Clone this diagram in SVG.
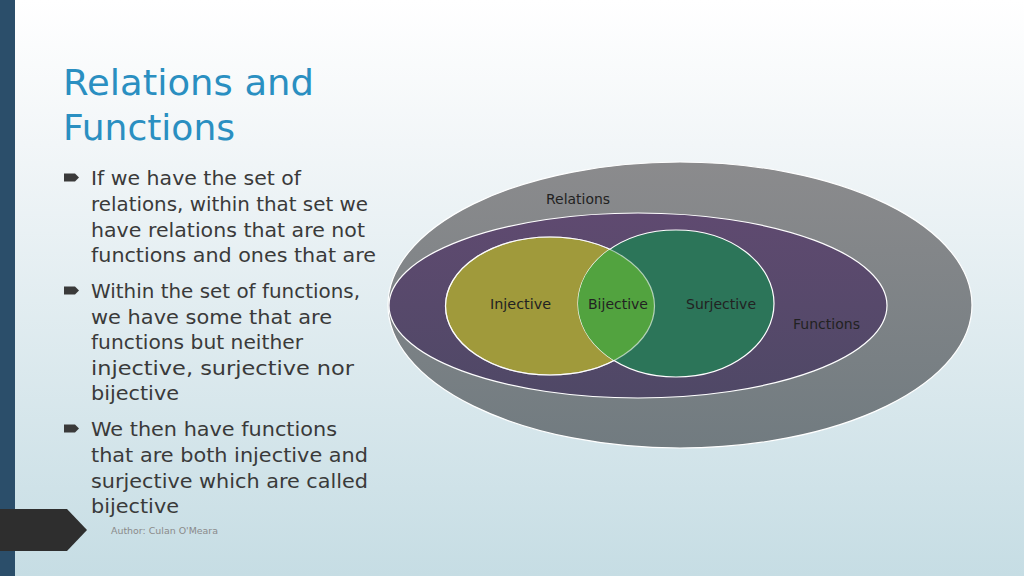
<svg xmlns="http://www.w3.org/2000/svg" width="1024" height="576" viewBox="0 0 1024 576">
<defs>
<linearGradient id="bg" x1="0" y1="0" x2="0" y2="1">
<stop offset="0" stop-color="#ffffff"/>
<stop offset="0.25" stop-color="#f2f6f8"/>
<stop offset="1" stop-color="#c6dde4"/>
</linearGradient>
<linearGradient id="rel" x1="0" y1="0" x2="0" y2="1">
<stop offset="0" stop-color="#8b8b8d"/>
<stop offset="1" stop-color="#717b80"/>
</linearGradient>
<linearGradient id="fun" x1="0" y1="0" x2="0" y2="1">
<stop offset="0" stop-color="#5f4a70"/>
<stop offset="1" stop-color="#4f4866"/>
</linearGradient>
<clipPath id="injClip"><ellipse cx="550" cy="306" rx="104.5" ry="69"/></clipPath>
<style>
.title{font-family:"DejaVu Sans","Liberation Sans",sans-serif;font-size:36px;fill:#2a8fc1}
.body{font-family:"DejaVu Sans","Liberation Sans",sans-serif;font-size:19.5px;fill:#3a3a3a}
.lbl{font-family:"DejaVu Sans","Liberation Sans",sans-serif;font-size:13.5px;fill:#222}
.set{stroke:#ffffff;stroke-width:1.2}
.bul{fill:#3a3a3a}
</style>
</defs>
<rect width="1024" height="576" fill="url(#bg)"/>
<rect x="0" y="0" width="15" height="576" fill="#2b4e6a"/>
<polygon points="0,509 67,509 87,530 67,551 0,551" fill="#2e2e2e"/>
<text class="title" x="63" y="95" textLength="251" lengthAdjust="spacingAndGlyphs">Relations and</text>
<text class="title" x="63" y="140" textLength="172" lengthAdjust="spacingAndGlyphs">Functions</text>
<g id="bullets">
<polygon class="bul" points="64,173.5 75,173.5 79,177.5 75,181.5 64,181.5"/>
<polygon class="bul" points="64,286.5 75,286.5 79,290.5 75,294.5 64,294.5"/>
<polygon class="bul" points="64,424.5 75,424.5 79,428.5 75,432.5 64,432.5"/>
<text class="body" x="91" y="185" textLength="210" lengthAdjust="spacingAndGlyphs">If we have the set of</text>
<text class="body" x="91" y="211" textLength="277" lengthAdjust="spacingAndGlyphs">relations, within that set we</text>
<text class="body" x="91" y="237" textLength="274" lengthAdjust="spacingAndGlyphs">have relations that are not</text>
<text class="body" x="91" y="262" textLength="285" lengthAdjust="spacingAndGlyphs">functions and ones that are</text>
<text class="body" x="91" y="298" textLength="269" lengthAdjust="spacingAndGlyphs">Within the set of functions,</text>
<text class="body" x="91" y="324" textLength="241" lengthAdjust="spacingAndGlyphs">we have some that are</text>
<text class="body" x="91" y="349" textLength="212" lengthAdjust="spacingAndGlyphs">functions but neither</text>
<text class="body" x="91" y="375" textLength="263" lengthAdjust="spacingAndGlyphs">injective, surjective nor</text>
<text class="body" x="91" y="400" textLength="88" lengthAdjust="spacingAndGlyphs">bijective</text>
<text class="body" x="91" y="436" textLength="246" lengthAdjust="spacingAndGlyphs">We then have functions</text>
<text class="body" x="91" y="462" textLength="277" lengthAdjust="spacingAndGlyphs">that are both injective and</text>
<text class="body" x="91" y="488" textLength="277" lengthAdjust="spacingAndGlyphs">surjective which are called</text>
<text class="body" x="91" y="513" textLength="88" lengthAdjust="spacingAndGlyphs">bijective</text>
</g>
<text x="111" y="534" textLength="107" lengthAdjust="spacingAndGlyphs" style="font-family:'DejaVu Sans','Liberation Sans',sans-serif;font-size:9.5px;fill:#8a8a8a">Author: Culan O'Meara</text>
<g id="relations">
<ellipse class="set" cx="680" cy="305" rx="292" ry="143" fill="url(#rel)"/>
<text class="lbl" x="546" y="204" textLength="64" lengthAdjust="spacingAndGlyphs">Relations</text>
</g>
<g id="functions">
<ellipse class="set" cx="638" cy="305.5" rx="249" ry="92.5" fill="url(#fun)"/>
<text class="lbl" x="793" y="329" textLength="67" lengthAdjust="spacingAndGlyphs">Functions</text>
</g>
<g id="injective">
<ellipse class="set" cx="550" cy="306" rx="104.5" ry="69" fill="#a09a3b"/>
</g>
<g id="surjective">
<ellipse class="set" cx="676" cy="303.5" rx="98" ry="73.5" fill="#2c7559"/>
</g>
<g id="bijective">
<ellipse clip-path="url(#injClip)" cx="676" cy="303.5" rx="98" ry="73.5" fill="#52a33f"/>
<ellipse cx="550" cy="306" rx="104.5" ry="69" fill="none" stroke="#ffffff" stroke-width="1.2" stroke-opacity="0.6"/>
</g>
<g id="labels">
<text class="lbl" x="490" y="309" textLength="61" lengthAdjust="spacingAndGlyphs">Injective</text>
<text class="lbl" x="588" y="309" textLength="60" lengthAdjust="spacingAndGlyphs">Bijective</text>
<text class="lbl" x="686" y="309" textLength="70" lengthAdjust="spacingAndGlyphs">Surjective</text>
</g>
<g id="connectors"/>
</svg>
